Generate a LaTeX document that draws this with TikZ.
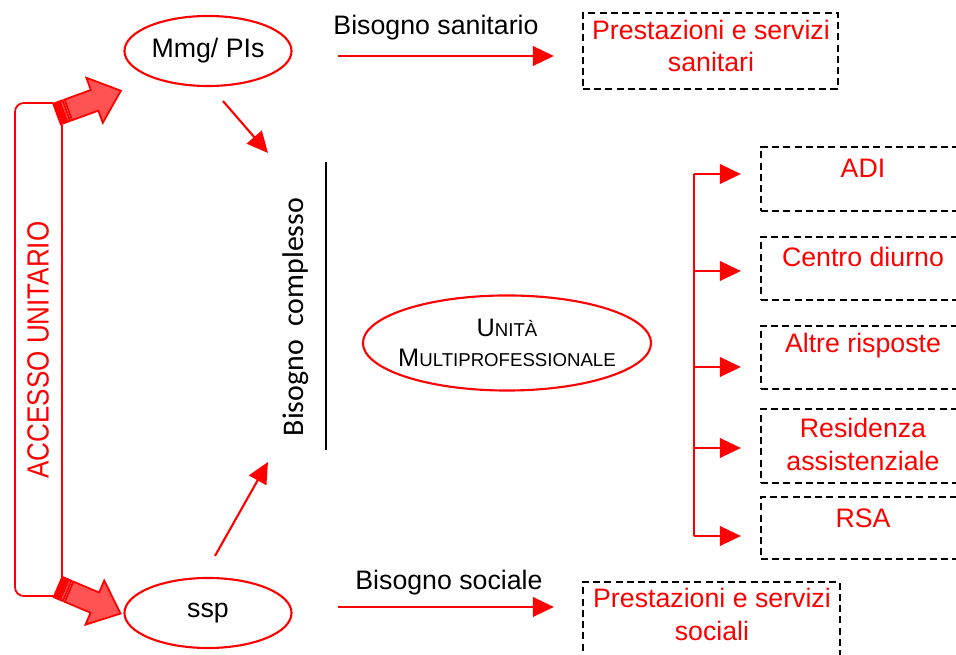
\documentclass[tikz,border=0pt]{standalone}
\usepackage{fontspec}
\setmainfont{Liberation Sans}
\newfontfamily\calibrifont{Carlito}
\newfontfamily\narrowfont[FakeStretch=0.85]{Liberation Sans}
\usetikzlibrary{arrows.meta,positioning,shapes.geometric}

\newcommand\fakesc[2]{{\fontsize{7.2}{8.6}\selectfont #1}{\fontsize{5.3}{8.6}\selectfont #2}}

% striped block arrow: base centre x, y, angle
\newcommand\stripearrow[3]{%
  \begin{scope}[shift={(#1,#2)}, rotate=#3, blockarrow]
    \filldraw (0,-11) rectangle (2,11);
    \filldraw (3.5,-11) rectangle (5.5,11);
    \filldraw (7,-11) rectangle (10,11);
    \filldraw (12,-11) -- (40,-11) -- (40,-24) -- (68,0) -- (40,24) -- (40,11) -- (12,11) -- cycle;
  \end{scope}}

\tikzset{
  ellnode/.style={ellipse, draw=red, line width=0.6pt, inner sep=0pt, font=\fontsize{7.6}{9}\selectfont},
  dashbox/.style={draw=black, dash pattern=on 2pt off 1.2pt, line width=0.6pt, inner sep=0pt},
  boxtext/.style={text=red, align=center, font=\fontsize{7.6}{9.3}\selectfont},
  plaintext/.style={font=\fontsize{7.6}{9}\selectfont},
  redarr/.style={draw=red, line width=0.6pt, -{Triangle[length=6pt,width=5.6pt]}},
  blockarrow/.style={draw=red, fill=red!68, line width=0.5pt},
}

\begin{document}
\begin{tikzpicture}[x=0.01cm, y=-0.01cm]
\useasboundingbox (0,0) rectangle (956,655);

% access frame
\draw[red, line width=0.5pt, rounded corners=2.5pt] (53,103) -- (15,103) -- (15,596) -- (54,596);
\draw[red, line width=0.5pt] (62,125) -- (62,577);
\node (acc) [rotate=90, text=red, font=\narrowfont\fontsize{8.7}{9}\selectfont] at (38,350) {ACCESSO UNITARIO};
\stripearrow{57}{114}{20}
\stripearrow{58}{587}{-23}

\node (mmg) [ellnode, minimum width=1.67cm, minimum height=0.7cm] at (208,51) {Mmg/ PIs};
\node (ssp) [ellnode, minimum width=1.67cm, minimum height=0.7cm] at (208,613) {ssp};

\node (cplx) [rotate=90, font=\calibrifont\fontsize{8.5}{9}\selectfont] at (296,317) {Bisogno\ \ complesso};
\draw[line width=0.6pt] (326,162) -- (326,450);
\coordinate (ctop) at (268,153);
\coordinate (cbot) at (268,462);
\draw[redarr] ([shift={(15,14)}]mmg.south) -- (ctop);
\draw[redarr] ([shift={(7,-21)}]ssp.north) -- (cbot);

\node (um) [ellnode, minimum width=2.88cm, minimum height=0.95cm, inner xsep=-12pt, align=center,
            font=\fontsize{7}{8.6}\selectfont] at (507,343) {\fakesc{U}{NITÀ}\\\fakesc{M}{ULTIPROFESSIONALE}};

% sanitario
\node (bsan) [plaintext] at (436,28) {Bisogno sanitario};
\node (sanbox) [dashbox, minimum width=2.55cm, minimum height=0.76cm] at (710.5,51) {};
\node (santxt) [boxtext] at (711,46) {Prestazioni e servizi\\sanitari};
\coordinate (s1) at (338,56);
\draw[redarr, shorten >=0.28cm] (s1) -- (s1 -| sanbox.west);

% sociale
\node (bsoc) [plaintext] at (449,583) {Bisogno sociale};
\node (socbox) [dashbox, minimum width=2.57cm, minimum height=0.88cm] at (711.5,626) {};
\node (soctxt) [boxtext] at (712,614.5) {Prestazioni e servizi\\sociali};
\coordinate (s2) at (338,607);
\draw[redarr, shorten >=0.28cm] (s2) -- (s2 -| socbox.west);

% answers
\node (adi) [dashbox, minimum width=2.02cm, minimum height=0.64cm] at (862,179) {};
\node (cd)  [dashbox, minimum width=2.02cm, minimum height=0.63cm] at (862,268.5) {};
\node (ar)  [dashbox, minimum width=2.02cm, minimum height=0.63cm] at (862,357.5) {};
\node (res) [dashbox, minimum width=2.02cm, minimum height=0.74cm] at (862,446) {};
\node (rsa) [dashbox, minimum width=2.02cm, minimum height=0.62cm] at (862,528) {};
\node (adit) [boxtext] at (863,168) {ADI};
\node (cdt)  [boxtext] at (863,257) {Centro diurno};
\node (art)  [boxtext] at (863,346) {Altre risposte};
\node (rest) [boxtext] at (863,444.5) {Residenza\\assistenziale};
\node (rsat) [boxtext] at (863,518) {RSA};

\coordinate (b1) at (694,174);
\coordinate (b2) at (694,271);
\coordinate (b3) at (694,367);
\coordinate (b4) at (694,448);
\coordinate (b5) at (694,536);
\draw[red, line width=0.6pt] (b1) -- (b5);
\draw[redarr, shorten >=0.19cm] (b1) -- (b1 -| adi.west);
\draw[redarr, shorten >=0.19cm] (b2) -- (b2 -| cd.west);
\draw[redarr, shorten >=0.19cm] (b3) -- (b3 -| ar.west);
\draw[redarr, shorten >=0.19cm] (b4) -- (b4 -| res.west);
\draw[redarr, shorten >=0.19cm] (b5) -- (b5 -| rsa.west);
\end{tikzpicture}
\end{document}
